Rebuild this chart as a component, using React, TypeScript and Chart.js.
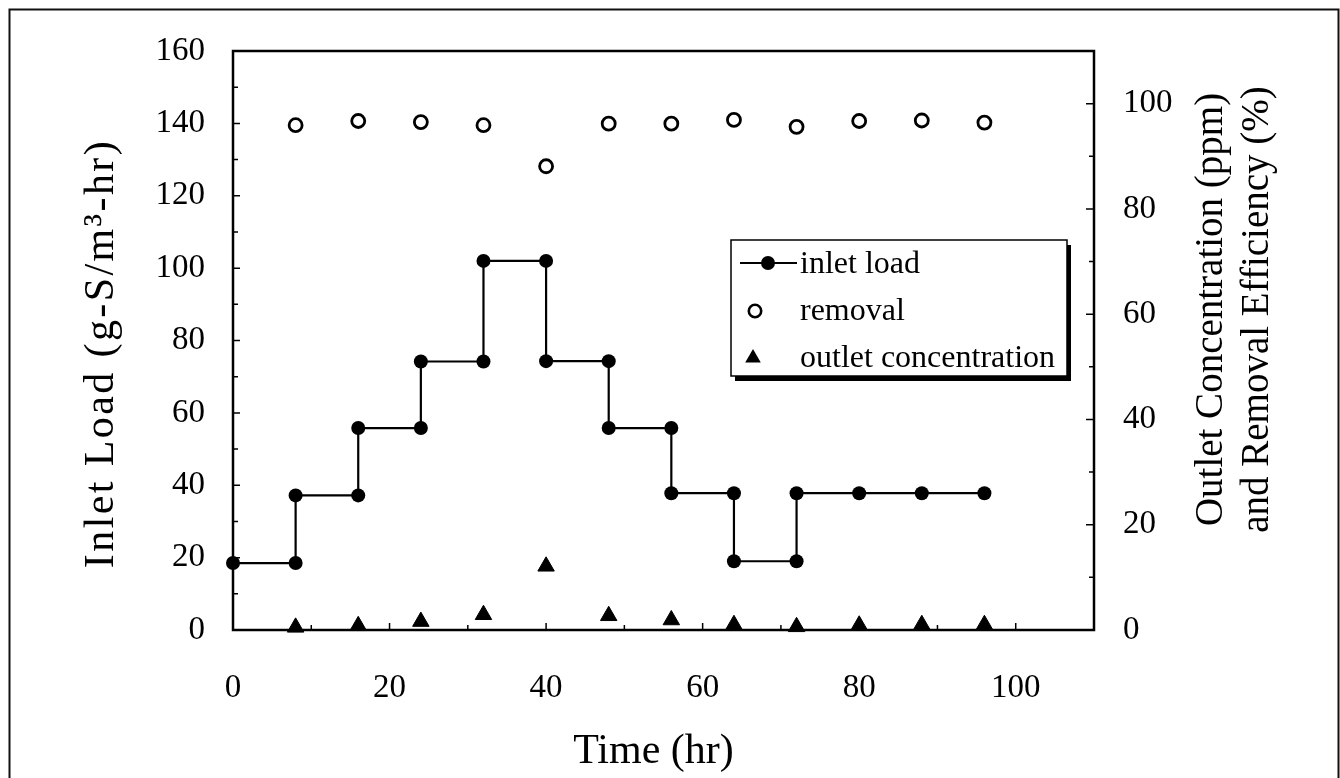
import React, { useEffect, useRef } from "react";
import { Chart, registerables } from "chart.js";

Chart.register(...registerables);

// ---- data ----
const inletTimes = [0, 8, 8, 16, 16, 24, 24, 32, 32, 40, 40, 48, 48, 56, 56, 64, 64, 72, 72, 80, 88, 96];
const inletLoad = [18.5, 18.5, 37.2, 37.2, 55.8, 55.8, 74.2, 74.2, 102, 102, 74.3, 74.3, 55.8, 55.8, 37.8, 37.8, 19, 19, 37.8, 37.8, 37.8, 37.8];
const sampleTimes = [8, 16, 24, 32, 40, 48, 56, 64, 72, 80, 88, 96];
const removalEff = [95.9, 96.7, 96.5, 95.9, 88.1, 96.2, 96.2, 96.9, 95.6, 96.7, 96.8, 96.4];
const outletConc = [0.5, 0.8, 1.6, 2.9, 12.1, 2.7, 1.9, 1.0, 0.6, 0.9, 1.0, 1.0];
const xTickValues = [0, 20, 40, 60, 80, 100];
const yTickValues = [0, 20, 40, 60, 80, 100, 120, 140, 160];
const y1TickValues = [0, 20, 40, 60, 80, 100];
const legendLabels = ["inlet load", "removal", "outlet concentration"];
const xTitle = "Time (hr)";
const yTitle = "Inlet Load (g-S/m³-hr)";
const y1Title = ["Outlet Concentration (ppm)", "and Removal Efficiency (%)"];

const FONT = "'Liberation Serif', 'Times New Roman', serif";

const decorPlugin = {
  id: "decor",
  afterDraw(chart: any) {
    const ctx = chart.ctx as CanvasRenderingContext2D;
    const a = chart.chartArea;
    const sx = chart.scales.x, sy = chart.scales.y, sy1 = chart.scales.y1;
    ctx.save();
    // outer border
    ctx.strokeStyle = "#111";
    ctx.lineWidth = 2;
    ctx.strokeRect(9.5, 9.5, 1329, 800);
    // plot frame
    ctx.strokeStyle = "#000";
    ctx.lineWidth = 2.5;
    ctx.strokeRect(a.left, a.top, a.right - a.left, a.bottom - a.top);
    // tick marks inward
    ctx.lineWidth = 1.5;
    ctx.beginPath();
    for (let v = 0; v <= 160; v += 10) {
      const p = sy.getPixelForValue(v);
      const len = v % 20 === 0 ? 7 : 5;
      ctx.moveTo(a.left, p); ctx.lineTo(a.left + len, p);
    }
    for (let v = 0; v <= 110; v += 10) {
      const p = sy1.getPixelForValue(v);
      const len = v % 20 === 0 ? 8 : 5;
      ctx.moveTo(a.right, p); ctx.lineTo(a.right - len, p);
    }
    for (let v = 0; v <= 110; v += 10) {
      const p = sx.getPixelForValue(v);
      const len = v % 20 === 0 ? 7 : 5;
      ctx.moveTo(p, a.bottom); ctx.lineTo(p, a.bottom - len);
    }
    ctx.stroke();

    // titles
    ctx.fillStyle = "#000";
    ctx.textAlign = "center";
    ctx.textBaseline = "middle";
    ctx.font = `42px ${FONT}`;
    ctx.fillText(xTitle, (a.left + a.right) / 2 - 10, 752);
    ctx.save();
    ctx.translate(102, (a.top + a.bottom) / 2 + 13);
    ctx.rotate(-Math.PI / 2);
    (ctx as any).letterSpacing = "2.4px";
    ctx.fillText(yTitle, 0, 0);
    (ctx as any).letterSpacing = "0px";
    ctx.restore();
    ctx.font = `39px ${FONT}`;
    ctx.save();
    ctx.translate(1212, (a.top + a.bottom) / 2 - 31);
    ctx.rotate(-Math.PI / 2);
    ctx.fillText(y1Title[0], 0, 0);
    ctx.fillText(y1Title[1], 0, 46);
    ctx.restore();

    // legend
    const lx = a.left + 498, ly = a.top + 189, lw = 336, lh = 136;
    ctx.fillStyle = "#000";
    ctx.fillRect(lx + 4, ly + 5, lw, lh);
    ctx.fillStyle = "#fff";
    ctx.fillRect(lx, ly, lw, lh);
    ctx.strokeStyle = "#000";
    ctx.lineWidth = 1.5;
    ctx.strokeRect(lx, ly, lw, lh);
    const rows = [ly + 33, ly + 80, ly + 127];
    const textX = lx + 69;
    ctx.font = `32px ${FONT}`;
    ctx.textAlign = "left";
    ctx.textBaseline = "alphabetic";
    ctx.fillStyle = "#000";
    legendLabels.forEach((t, i) => ctx.fillText(t, textX, rows[i]));
    const ds = chart.data.datasets;
    // row 1: line + filled circle
    const c1y = rows[0] - 10;
    ctx.lineWidth = 2;
    ctx.beginPath();
    ctx.moveTo(lx + 9, c1y); ctx.lineTo(lx + 66, c1y);
    ctx.stroke();
    ctx.beginPath();
    ctx.arc(lx + 37, c1y, 7, 0, Math.PI * 2);
    ctx.fillStyle = ds[0].pointBackgroundColor;
    ctx.fill();
    // row 2: open circle
    ctx.beginPath();
    ctx.arc(lx + 24, rows[1] - 9, 6.2, 0, Math.PI * 2);
    ctx.fillStyle = "#fff";
    ctx.fill();
    ctx.lineWidth = 2.6;
    ctx.stroke();
    // row 3: triangle
    const tx = lx + 22, ty = rows[2] - 9, r = 9;
    ctx.beginPath();
    ctx.moveTo(tx, ty - r);
    ctx.lineTo(tx + r * 0.866, ty + r * 0.5);
    ctx.lineTo(tx - r * 0.866, ty + r * 0.5);
    ctx.closePath();
    ctx.fillStyle = "#000";
    ctx.fill();
    ctx.restore();
  },
};

export default function App() {
  const ref = useRef<HTMLCanvasElement | null>(null);
  useEffect(() => {
    document.body.style.margin = "0";
    const canvas = ref.current!;
    const tickFont = { family: FONT, size: 33 };
    const chart = new Chart(canvas, {
      type: "line",
      data: {
        datasets: [
          {
            label: legendLabels[0],
            data: inletTimes.map((t, i) => ({ x: t, y: inletLoad[i] })),
            yAxisID: "y",
            borderColor: "#000",
            borderWidth: 2.2,
            pointStyle: "circle",
            pointRadius: 7,
            pointBackgroundColor: "#000",
            pointBorderColor: "#000",
            pointBorderWidth: 0,
            tension: 0,
            clip: false as any,
          },
          {
            label: legendLabels[1],
            data: sampleTimes.map((t, i) => ({ x: t, y: removalEff[i] })),
            yAxisID: "y1",
            showLine: false,
            pointStyle: "circle",
            pointRadius: 6.5,
            pointBackgroundColor: "#fff",
            pointBorderColor: "#000",
            pointBorderWidth: 2.8,
            clip: false as any,
          },
          {
            label: legendLabels[2],
            data: sampleTimes.map((t, i) => ({ x: t, y: outletConc[i] })),
            yAxisID: "y1",
            showLine: false,
            pointStyle: "triangle",
            pointRadius: 9.5,
            pointBackgroundColor: "#000",
            pointBorderColor: "#000",
            pointBorderWidth: 1,
            clip: false as any,
          },
        ],
      },
      options: {
        responsive: false,
        animation: false,
        layout: { padding: { top: 51, left: 0, right: 0, bottom: 0 } },
        plugins: { legend: { display: false }, tooltip: { enabled: false } },
        scales: {
          x: {
            type: "linear",
            position: "bottom",
            min: 0,
            max: 110,
            ticks: { font: tickFont, color: "#000", padding: 39, maxRotation: 0, autoSkip: false },
            grid: { display: false, drawTicks: false },
            border: { display: false },
            afterBuildTicks: (s: any) => { s.ticks = xTickValues.map((v) => ({ value: v })); },
            afterFit: (s: any) => { s.height = 148; },
          },
          y: {
            type: "linear",
            position: "left",
            min: 0,
            max: 160,
            ticks: { font: tickFont, color: "#000", padding: 28, autoSkip: false },
            grid: { display: false, drawTicks: false },
            border: { display: false },
            afterBuildTicks: (s: any) => { s.ticks = yTickValues.map((v) => ({ value: v })); },
            afterFit: (s: any) => { s.width = 233; },
          },
          y1: {
            type: "linear",
            position: "right",
            min: 0,
            max: 110,
            ticks: { font: tickFont, color: "#000", padding: 29, autoSkip: false },
            grid: { display: false, drawTicks: false },
            border: { display: false },
            afterBuildTicks: (s: any) => { s.ticks = y1TickValues.map((v) => ({ value: v })); },
            afterFit: (s: any) => { s.width = 246; },
          },
        },
      },
      plugins: [decorPlugin],
    });
    return () => chart.destroy();
  }, []);
  return (
    <div style={{ width: 1340, height: 778, background: "#fff" }}>
      <canvas ref={ref} width={1340} height={778} style={{ display: "block" }} />
    </div>
  );
}
